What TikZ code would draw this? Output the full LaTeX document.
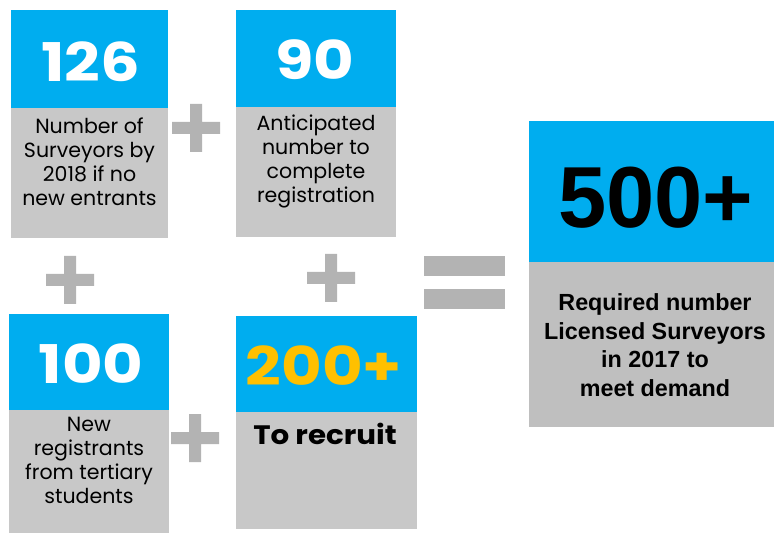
\documentclass[tikz,border=0pt]{standalone}
\usepackage{fontspec}
\setmainfont{Poppins}
\newfontfamily\arialfont{Liberation Sans}
\usetikzlibrary{calc}
\definecolor{boxblue}{HTML}{00ADEF}
\definecolor{boxgray}{HTML}{C8C8C8}
\definecolor{biggray}{HTML}{BFBFBF}
\definecolor{signgray}{HTML}{B3B3B3}
\definecolor{numgold}{HTML}{FFC000}
\newcommand{\widenum}[1]{\scalebox{1.17}[1]{#1}}
\tikzset{
    num/.style={text=white,font=\fontsize{40}{40}\selectfont\bfseries,anchor=base,inner sep=0pt},
    label/.style={align=center,font=\fontsize{15.4}{18}\selectfont,inner sep=0pt},
}
\begin{document}
\begin{tikzpicture}[x=0.75pt,y=-0.75pt]
            \useasboundingbox (0,0) rectangle (774,534);

            \fill[boxblue] (11,10) rectangle (168,108);
            \fill[boxgray] (11,108) rectangle (168,238);
            \node[num] (n126) at (90.5,82) {\widenum{126}};
            \node[label] (t126) at (89.5,162) {Number of\\Surveyors by\\2018 if no\\new entrants};

            \fill[boxblue] (236,10) rectangle (396,107);
            \fill[boxgray] (236,107) rectangle (396,237);
            \node[num] (n90) at (315,80) {\widenum{90}};
            \node[label] (t90) at (316,161) {Anticipated\\number to\\complete\\registration};

            \fill[boxblue] (9,314) rectangle (169,410);
            \fill[boxgray] (9,410) rectangle (169,533);
            \node[num] (n100) at (91,383) {\widenum{100}};
            \node[label] (t100) at (89,460) {New\\registrants\\from tertiary\\students};

            \fill[boxblue] (236,316) rectangle (417,412);
            \fill[boxgray] (236,412) rectangle (417,529);
            \node[num,text=numgold] (n200) at (324,385) {\widenum{200+}};
            \node[label,font=\fontsize{20}{24}\selectfont\bfseries] (t200) at (325,434) {\scalebox{1.1}[1]{To recruit}};

            \fill[boxblue] (529,121) rectangle (774,262);
            \fill[biggray] (529,262) rectangle (774,427);
            \node[num,text=black,font=\arialfont\fontsize{65}{65}\selectfont\bfseries] (n500) at (656,228) {500+};
            \node[label,font=\arialfont\fontsize{17.5}{21.4}\selectfont\bfseries] (t500) at (655,345) {Required number\\Licensed Surveyors\\in 2017 to\\meet demand};

            \coordinate (P1) at (196,128);
            \coordinate (P2) at (70,280);
            \coordinate (P3) at (331,278);
            \coordinate (P4) at (195,438);
            \fill[signgray] ($(P1)+(-24,-6)$) rectangle ($(P1)+(24,6)$) ($(P1)+(-6,-24)$) rectangle ($(P1)+(6,24)$);
            \fill[signgray] ($(P2)+(-24,-6)$) rectangle ($(P2)+(24,6)$) ($(P2)+(-6,-24)$) rectangle ($(P2)+(6,24)$);
            \fill[signgray] ($(P3)+(-24,-6)$) rectangle ($(P3)+(24,6)$) ($(P3)+(-6,-24)$) rectangle ($(P3)+(6,24)$);
            \fill[signgray] ($(P4)+(-24,-6)$) rectangle ($(P4)+(24,6)$) ($(P4)+(-6,-24)$) rectangle ($(P4)+(6,24)$);

            \fill[signgray] (424,256) rectangle (505,276);
            \fill[signgray] (424,289) rectangle (505,309);
\end{tikzpicture}
\end{document}
